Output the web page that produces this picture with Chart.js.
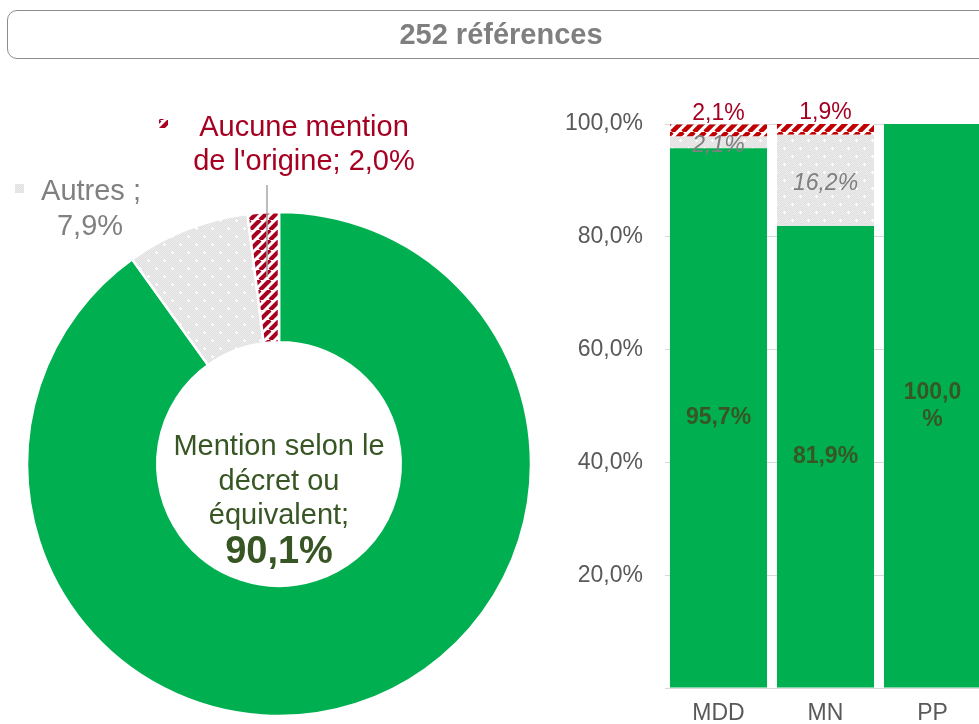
<!DOCTYPE html>
<html>
<head>
<meta charset="utf-8">
<script src="https://cdn.jsdelivr.net/npm/chart.js@4"></script>
<style>
  html, body { margin:0; padding:0; background:#fff; width:979px; height:724px; overflow:hidden; }
  body { position:relative; font-family:"Liberation Sans", Arial, sans-serif; }
  #title { position:absolute; left:7px; top:10px; width:986px; height:47px; border:1px solid #8c8c8c; border-radius:10px;
           display:flex; align-items:center; justify-content:center; font-weight:bold; font-size:29px; color:#7f7f7f; z-index:3; }
  #donutWrap { position:absolute; left:0; top:0; width:560px; height:724px; }
  #barWrap { position:absolute; left:540px; top:0; width:460px; height:724px; }
</style>
</head>
<body>
<div id="title">252 références</div>
<div id="donutWrap"><canvas id="donut"></canvas></div>
<div id="barWrap"><canvas id="bars"></canvas></div>
<script>
// ---------- DATA ----------
const donutLabels = ["Mention selon le décret ou équivalent", "Autres", "Aucune mention de l'origine"];
const donutValues = [90.1, 7.9, 2.0];
const barCategories = ["MDD", "MN", "PP"];
const barMention = [95.7, 81.9, 100.0];
const barAutres = [2.1, 16.2, 0];
const barAucune = [2.1, 1.9, 0];
const yTickValues = [0, 20, 40, 60, 80, 100];

// ---------- helpers ----------
const FONT = '"Liberation Sans", Arial, sans-serif';
const fmt = v => v.toFixed(1).replace('.', ',') + '%';

function stripePattern(color, s, w) {
  const c = document.createElement('canvas'); c.width = c.height = s;
  const g = c.getContext('2d');
  g.fillStyle = '#fff'; g.fillRect(0, 0, s, s);
  g.strokeStyle = color; g.lineWidth = w; g.beginPath();
  for (let k = -1; k <= 1; k++) { g.moveTo(k * s, s); g.lineTo(k * s + s, 0); }
  g.stroke();
  return g.createPattern(c, 'repeat');
}
function dotPattern() {
  const s = 16;
  const c = document.createElement('canvas'); c.width = c.height = s;
  const g = c.getContext('2d');
  g.fillStyle = '#e0e0e0'; g.fillRect(0, 0, s, s);
  g.fillStyle = '#ebebeb';
  for (let x = 0; x < s; x++) for (let y = 0; y < s; y++) if ((x + y) % 2 === 0) g.fillRect(x, y, 1, 1);
  g.fillStyle = '#ffffff';
  [[4, 4], [12, 12]].forEach(([x, y]) => { g.fillRect(x - 1, y, 3, 1); g.fillRect(x, y - 1, 1, 3); });
  return g.createPattern(c, 'repeat');
}

const GREEN = '#00b050';
const redDonut = stripePattern('#a8001f', 10, 4.2);
const redBar = stripePattern('#c00000', 11, 4.6);
const grayDots = dotPattern();

// ---------- Doughnut ----------
const donutText = {
  id: 'donutText',
  afterDraw(chart) {
    const ctx = chart.ctx;
    const meta = chart.getDatasetMeta(0);
    const cx = meta.data[0].x;
    ctx.save();
    ctx.textAlign = 'center'; ctx.textBaseline = 'middle';
    // leader line for "Aucune mention"
    ctx.strokeStyle = '#a6a6a6'; ctx.lineWidth = 1.5;
    ctx.beginPath(); ctx.moveTo(cx - 12, 185); ctx.lineTo(cx - 12, 277); ctx.stroke();
    // legend keys
    ctx.fillStyle = redDonut; ctx.fillRect(cx - 120, 119, 9, 9);
    ctx.fillStyle = grayDots; ctx.fillRect(15, 184, 9, 9);
    // Aucune mention
    ctx.font = '29px ' + FONT; ctx.fillStyle = '#a50021';
    ctx.fillText('Aucune mention', cx + 25, 128);
    ctx.fillText("de l'origine; " + fmt(donutValues[2]), cx + 25, 162);
    // Autres
    ctx.fillStyle = '#808080';
    ctx.fillText(donutLabels[1] + ' ;', 91, 192);
    ctx.fillText(fmt(donutValues[1]), 90, 227);
    // center label
    ctx.fillStyle = '#375623';
    ctx.fillText('Mention selon le', cx, 447);
    ctx.fillText('décret ou', cx, 482);
    ctx.fillText('équivalent;', cx, 516);
    ctx.font = 'bold 38px ' + FONT;
    ctx.fillText(fmt(donutValues[0]), cx, 553);
    ctx.restore();
  }
};

new Chart(document.getElementById('donut'), {
  type: 'doughnut',
  data: {
    labels: donutLabels,
    datasets: [{
      data: donutValues,
      backgroundColor: [GREEN, grayDots, redDonut],
      borderColor: '#ffffff',
      borderWidth: 2.5
    }]
  },
  options: {
    responsive: true, maintainAspectRatio: false, animation: false,
    radius: 252, cutout: 125,
    layout: { padding: { left: 0, right: 2, top: 204, bottom: 0 } },
    plugins: { legend: { display: false }, tooltip: { enabled: false } }
  },
  plugins: [donutText]
});

// ---------- Stacked bars ----------
const barLabels = {
  id: 'barLabels',
  afterDatasetsDraw(chart) {
    const ctx = chart.ctx;
    ctx.save();
    ctx.textAlign = 'center'; ctx.textBaseline = 'middle';
    chart.data.datasets.forEach((ds, i) => {
      const meta = chart.getDatasetMeta(i);
      meta.data.forEach((bar, j) => {
        const v = ds.data[j];
        if (!v) return;
        const p = bar.getProps(['x', 'y', 'base', 'width'], true);
        const mid = (p.y + p.base) / 2;
        const t = fmt(v);
        if (i === 0) {
          ctx.font = 'bold 23px ' + FONT; ctx.fillStyle = '#375623';
          if (ctx.measureText(t).width > p.width * 0.75) {
            ctx.fillText(t.slice(0, -1), p.x, mid - 13);
            ctx.fillText('%', p.x, mid + 14);
          } else ctx.fillText(t, p.x, mid);
        } else if (i === 1) {
          ctx.font = 'italic 23px ' + FONT; ctx.fillStyle = '#7f7f7f';
          ctx.fillText(t, p.x, mid + 3);
        } else {
          ctx.font = '23px ' + FONT; ctx.fillStyle = '#a50021';
          ctx.fillText(t, p.x, p.y - 11);
        }
      });
    });
    ctx.restore();
  }
};

new Chart(document.getElementById('bars'), {
  type: 'bar',
  data: {
    labels: barCategories,
    datasets: [
      { label: donutLabels[0], data: barMention, backgroundColor: GREEN, borderWidth: 0 },
      { label: donutLabels[1], data: barAutres, backgroundColor: grayDots, borderWidth: 0 },
      { label: donutLabels[2], data: barAucune, backgroundColor: redBar, borderWidth: 0 }
    ]
  },
  options: {
    responsive: true, maintainAspectRatio: false, animation: false,
    layout: { padding: { left: 0, right: 14, top: 124, bottom: 0 } },
    datasets: { bar: { barPercentage: 0.907, categoryPercentage: 1 } },
    scales: {
      x: {
        stacked: true,
        grid: { display: false, drawTicks: false },
        border: { display: false },
        ticks: { color: '#595959', font: { size: 23, family: FONT }, padding: 12 },
        afterFit(s) { s.height = 36; }
      },
      y: {
        stacked: true, min: 0, max: 100,
        afterBuildTicks(s) { s.ticks = yTickValues.map(v => ({ value: v })); },
        grid: { color: '#d9d9d9', lineWidth: 1, drawTicks: false },
        border: { display: false },
        ticks: {
          color: '#595959', font: { size: 23, family: FONT }, padding: 22,
          callback: v => v === 0 ? '' : fmt(v)
        },
        afterFit(s) { s.width = 125; }
      }
    },
    plugins: { legend: { display: false }, tooltip: { enabled: false } }
  },
  plugins: [barLabels]
});
</script>
</body>
</html>
